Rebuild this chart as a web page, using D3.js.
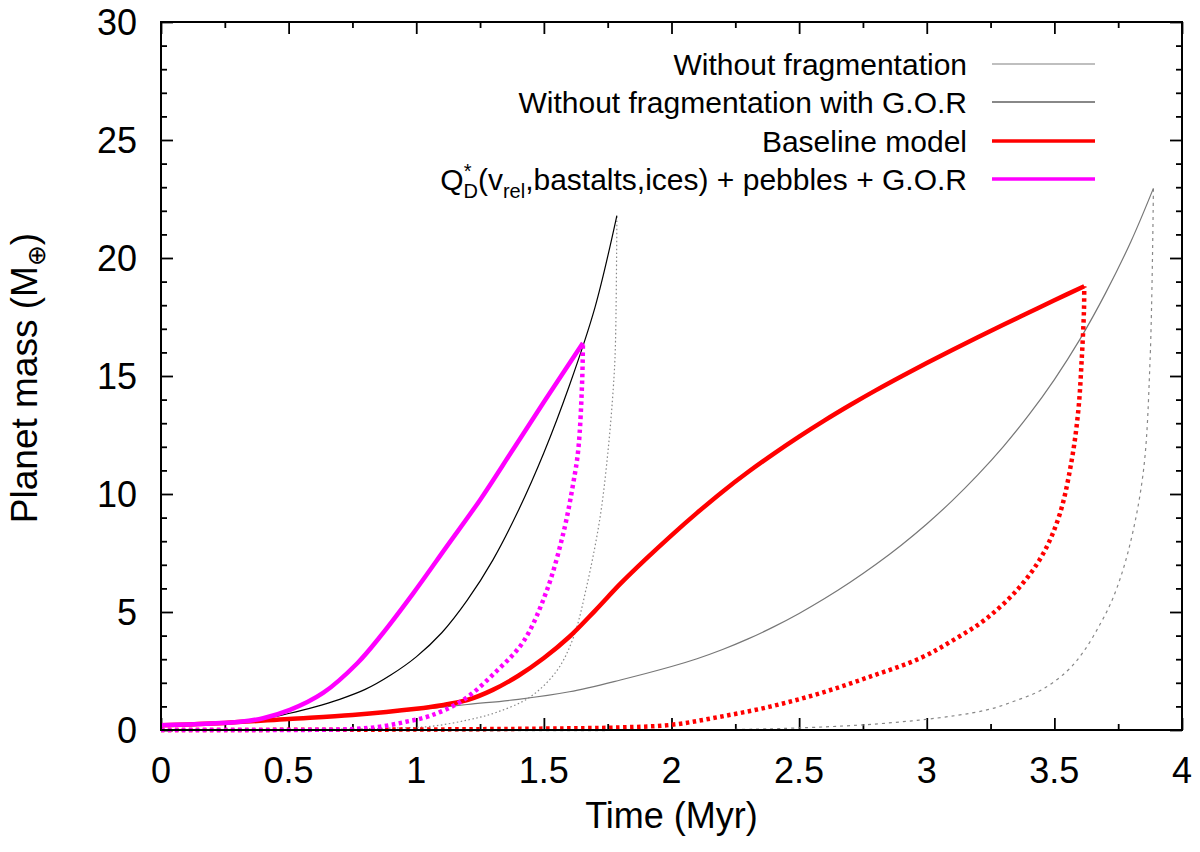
<!DOCTYPE html>
<html>
<head>
<meta charset="utf-8">
<script src="https://cdn.jsdelivr.net/npm/d3@7"></script>
<style>
  body { margin: 0; background: #fff; }
  text { font-family: "Liberation Sans", Arial, sans-serif; fill: #000; }
</style>
</head>
<body>
<div id="chart"></div>
<script>
// curves: [time (Myr), mass (M_earth)]
var blackTotal = [[0,0.2],[0.25,0.3],[0.4,0.47],[0.5,0.7],[0.6,0.97],[0.7,1.3],[0.8,1.72],[0.9,2.33],[1.0,3.1],[1.1,4.12],[1.2,5.5],[1.3,7.2],[1.4,9.3],[1.5,11.75],[1.6,14.6],[1.7,17.9],[1.786,21.8]];
var blackCore = [[0,0],[0.6,0.02],[0.9,0.08],[1.054,0.15],[1.2,0.42],[1.315,0.75],[1.446,1.4],[1.55,2.5],[1.615,3.9],[1.668,6.1],[1.72,9.0],[1.752,11.9],[1.772,14.5],[1.78,16.2],[1.786,21.8]];
var grayTotal = [[0,0.2],[0.25,0.3],[0.5,0.45],[0.8,0.66],[1.0,0.85],[1.2,1.08],[1.4,1.3],[1.6,1.62],[1.8,2.12],[2.0,2.69],[2.1,3.02],[2.2,3.41],[2.3,3.86],[2.4,4.37],[2.5,4.94],[2.6,5.57],[2.7,6.26],[2.8,7.01],[2.9,7.83],[3.0,8.73],[3.1,9.72],[3.2,10.81],[3.3,12.01],[3.4,13.35],[3.5,14.85],[3.6,16.55],[3.7,18.5],[3.8,20.7],[3.888,22.95]];
var grayCore = [[0,0],[2.45,0.07],[2.97,0.42],[3.235,0.85],[3.35,1.25],[3.45,1.7],[3.55,2.5],[3.613,3.3],[3.68,4.5],[3.73,5.6],[3.79,7.6],[3.848,10.9],[3.875,15.7],[3.888,22.95]];
var redTotal = [[0,0.2],[0.25,0.3],[0.5,0.47],[0.75,0.64],[1.0,0.9],[1.1,1.05],[1.2,1.27],[1.3,1.7],[1.4,2.3],[1.5,3.05],[1.6,3.95],[1.7,5.05],[1.8,6.2],[1.9,7.25],[2.0,8.25],[2.1,9.2],[2.2,10.1],[2.3,10.93],[2.4,11.7],[2.5,12.43],[2.6,13.12],[2.7,13.77],[2.8,14.39],[2.9,14.98],[3.0,15.55],[3.1,16.1],[3.2,16.64],[3.3,17.17],[3.4,17.69],[3.5,18.21],[3.617,18.8]];
var redCore = [[0,0],[1.0,0.02],[1.5,0.06],[1.8,0.11],[2.0,0.22],[2.19,0.56],[2.386,0.99],[2.58,1.55],[2.778,2.26],[2.974,3.04],[3.104,3.81],[3.235,4.73],[3.365,6.07],[3.457,7.49],[3.522,9.18],[3.568,11.44],[3.594,13.56],[3.607,15.68],[3.616,17.8],[3.617,18.8]];
var pinkTotal = [[0,0.2],[0.31,0.35],[0.4,0.5],[0.505,0.85],[0.635,1.57],[0.77,2.84],[0.858,3.95],[0.988,5.79],[1.119,7.77],[1.25,9.75],[1.374,11.8],[1.5,13.9],[1.653,16.4]];
var pinkCore = [[0,0],[0.5,0],[0.75,0.04],[0.858,0.14],[0.96,0.35],[1.054,0.6],[1.184,1.27],[1.315,2.5],[1.42,3.75],[1.511,5.9],[1.576,8.33],[1.615,10.45],[1.635,11.9],[1.65,14.8],[1.653,16.4]];

var xTicks = [0, 0.5, 1, 1.5, 2, 2.5, 3, 3.5, 4];
var yTicks = [0, 5, 10, 15, 20, 25, 30];
var legendLabels = ["Without fragmentation", "Without fragmentation with G.O.R", "Baseline model", "Q*D(vrel,bastalts,ices) + pebbles + G.O.R"];

var W = 1200, H = 852;
var margin = {top: 22, right: 18, bottom: 122, left: 161};
var width = W - margin.left - margin.right,
    height = H - margin.top - margin.bottom;

var svg = d3.select("#chart").append("svg")
    .attr("width", W).attr("height", H);
var g = svg.append("g")
    .attr("transform", "translate(" + margin.left + "," + margin.top + ")");

var x = d3.scaleLinear().domain([0, 4]).range([0, width]);
var y = d3.scaleLinear().domain([0, 30]).range([height, 0]);

var xMinor = d3.range(0.25, 4, 0.5);
var yMinor = d3.range(0, 31).filter(function(v){ return v % 5 != 0; });

function styleAxis(sel) {
    sel.select(".domain").remove();
    sel.selectAll("line").attr("stroke", "#000").attr("stroke-width", 1.8);
}

// major + minor ticks, all pointing in, mirrored on top/right
g.append("g").attr("transform", "translate(0," + height + ")")
    .call(d3.axisBottom(x).tickValues(xTicks).tickSize(-12).tickFormat(""))
    .call(styleAxis);
g.append("g").attr("transform", "translate(0," + height + ")")
    .call(d3.axisBottom(x).tickValues(xMinor).tickSize(-6).tickFormat(""))
    .call(styleAxis);
g.append("g")
    .call(d3.axisTop(x).tickValues(xTicks).tickSize(-12).tickFormat(""))
    .call(styleAxis);
g.append("g")
    .call(d3.axisTop(x).tickValues(xMinor).tickSize(-6).tickFormat(""))
    .call(styleAxis);
g.append("g")
    .call(d3.axisLeft(y).tickValues(yTicks).tickSize(-12).tickFormat(""))
    .call(styleAxis);
g.append("g")
    .call(d3.axisLeft(y).tickValues(yMinor).tickSize(-6).tickFormat(""))
    .call(styleAxis);
g.append("g").attr("transform", "translate(" + width + ",0)")
    .call(d3.axisRight(y).tickValues(yTicks).tickSize(-12).tickFormat(""))
    .call(styleAxis);
g.append("g").attr("transform", "translate(" + width + ",0)")
    .call(d3.axisRight(y).tickValues(yMinor).tickSize(-6).tickFormat(""))
    .call(styleAxis);

// tick labels
g.selectAll(".xlab").data(xTicks).enter().append("text")
    .attr("x", function(d){ return x(d); })
    .attr("y", height + 53)
    .attr("text-anchor", "middle")
    .style("font-size", "36px")
    .text(function(d){ return d; });
g.selectAll(".ylab").data(yTicks).enter().append("text")
    .attr("x", -24)
    .attr("y", function(d){ return y(d) + 13; })
    .attr("text-anchor", "end")
    .style("font-size", "36px")
    .text(function(d){ return d; });

// axis titles
g.append("text")
    .attr("x", width / 2).attr("y", height + 98)
    .attr("text-anchor", "middle")
    .style("font-size", "36px")
    .text("Time (Myr)");

var yt = svg.append("text")
    .attr("transform", "translate(37," + (margin.top + height / 2 + 2) + ") rotate(-90)")
    .attr("text-anchor", "middle")
    .style("font-size", "37px");
yt.append("tspan").text("Planet mass (M");
yt.append("tspan").attr("dy", 8).style("font-size", "25px").text("\u2295");
yt.append("tspan").attr("dy", -8).text(")");

var line = d3.line()
    .x(function(d){ return x(d[0]); })
    .y(function(d){ return y(d[1]); })
    .curve(d3.curveCatmullRom.alpha(0.5));

var series = [
    {data: grayCore, color: "#888", w: 1.2, dash: "3,4"},
    {data: grayTotal, color: "#777", w: 1.2, dash: null},
    {data: blackCore, color: "#888", w: 1.2, dash: "1.5,2.5"},
    {data: blackTotal, color: "#000", w: 1.2, dash: null},
    {data: redCore, color: "#ff0000", w: 4.5, dash: "3.5,3.5"},
    {data: redTotal, color: "#ff0000", w: 4.5, dash: null},
    {data: pinkCore, color: "#ff00ff", w: 4.5, dash: "3.5,3.5"},
    {data: pinkTotal, color: "#ff00ff", w: 4.5, dash: null}
];

g.selectAll(".curve").data(series).enter().append("path")
    .attr("class", "curve")
    .attr("fill", "none")
    .attr("stroke", function(d){ return d.color; })
    .attr("stroke-width", function(d){ return d.w; })
    .attr("stroke-dasharray", function(d){ return d.dash; })
    .attr("d", function(d){ return line(d.data); });

// frame
g.append("rect")
    .attr("width", width).attr("height", height)
    .attr("fill", "none").attr("stroke", "#000").attr("stroke-width", 2);

// legend
var legColors = ["#aaa", "#888", "#ff0000", "#ff00ff"];
var legWidths = [1.5, 2, 3.5, 3.5];
var legY = [64, 102, 141, 179];
var leg = svg.append("g");
legendLabels.forEach(function(lab, i) {
    leg.append("line")
        .attr("x1", 992).attr("x2", 1095)
        .attr("y1", legY[i]).attr("y2", legY[i])
        .attr("stroke", legColors[i]).attr("stroke-width", legWidths[i]);
    var t = leg.append("text")
        .attr("x", 967).attr("y", legY[i] + 11)
        .attr("text-anchor", "end")
        .style("font-size", "30px");
    if (i < 3) {
        t.text(lab);
    } else {
        t.append("tspan").text("Q");
        t.append("tspan").attr("dy", -12).style("font-size", "20px").text("*");
        t.append("tspan").attr("dx", -8).attr("dy", 20).style("font-size", "20px").text("D");
        t.append("tspan").attr("dy", -8).text("(v");
        t.append("tspan").attr("dy", 8).style("font-size", "20px").text("rel");
        t.append("tspan").attr("dy", -8).text(",bastalts,ices) + pebbles + G.O.R");
    }
});
</script>
</body>
</html>
